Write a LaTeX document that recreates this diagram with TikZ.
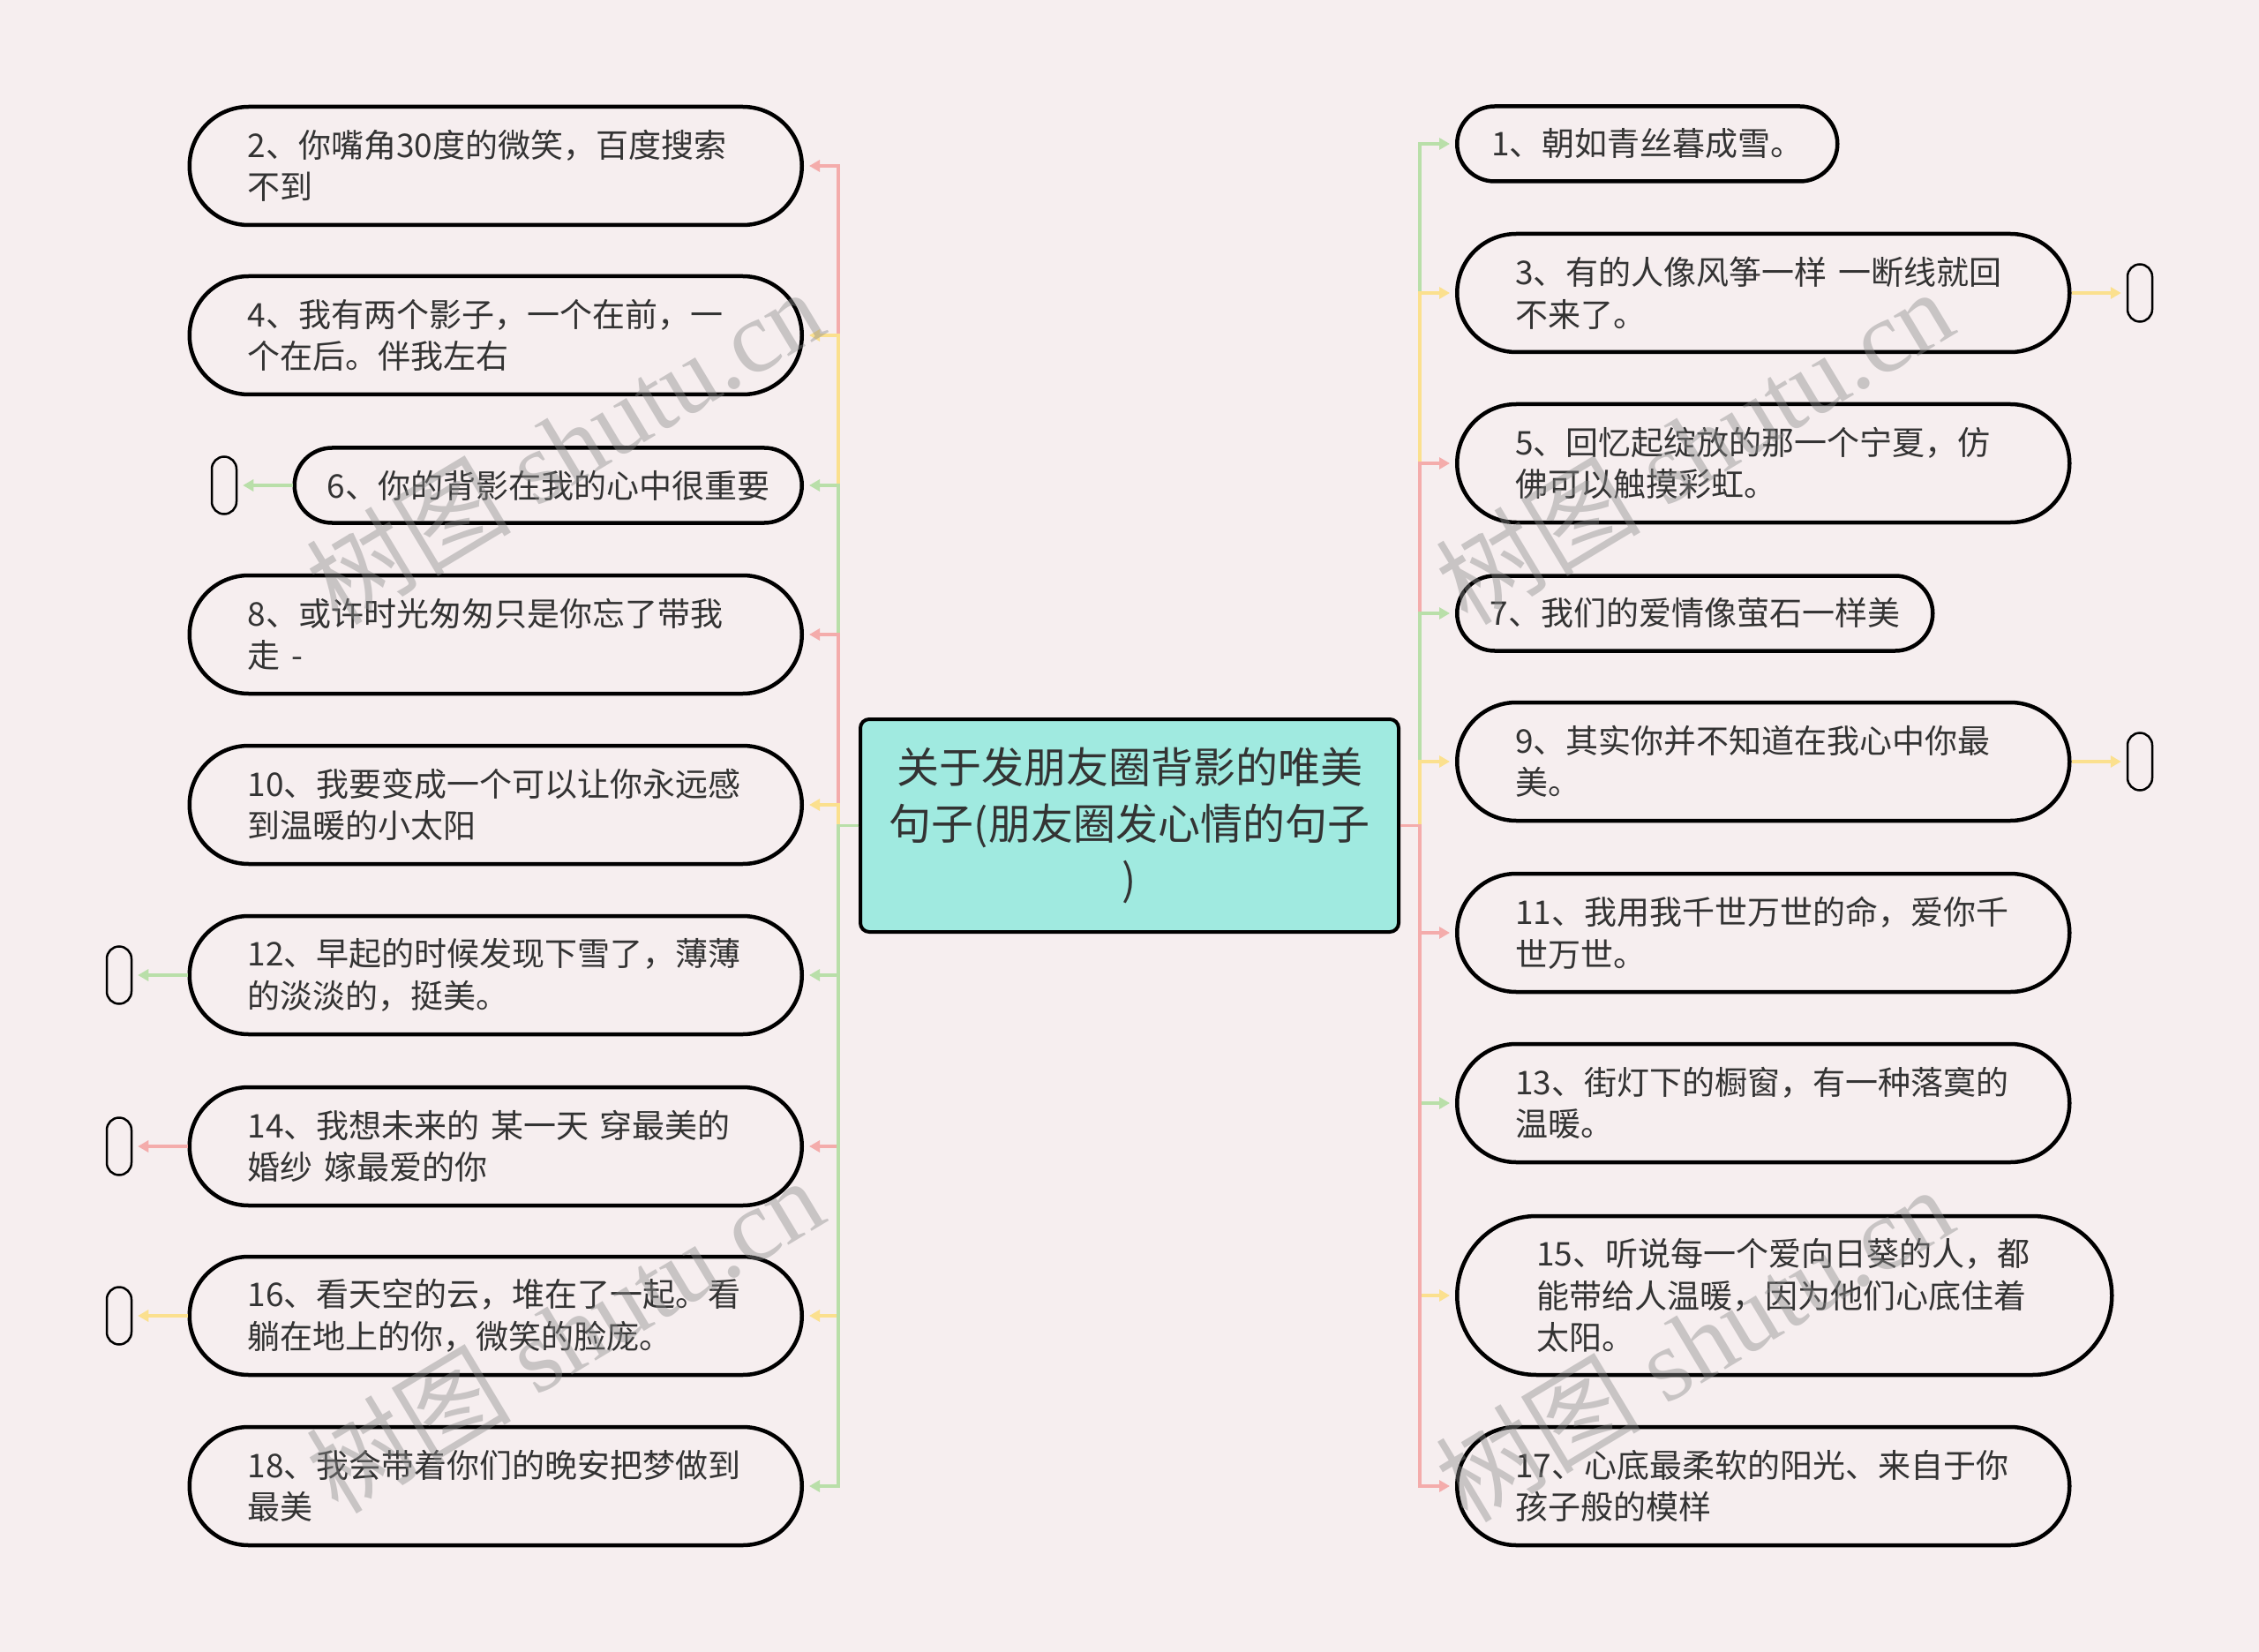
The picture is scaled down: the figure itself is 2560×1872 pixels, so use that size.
\documentclass[tikz,border=0pt]{standalone}
\usepackage{fontspec}
\newfontfamily\cjk{Noto Sans CJK SC}
\newfontfamily\wmserif{Liberation Serif}
\usetikzlibrary{arrows.meta}
\definecolor{bgc}{HTML}{F6EEEF}
\definecolor{redc}{HTML}{F4ACAB}
\definecolor{yelc}{HTML}{FBE08E}
\definecolor{grnc}{HTML}{B9DFA9}
\definecolor{cenc}{HTML}{A0EAE0}
\definecolor{txtc}{HTML}{333333}
\definecolor{wmc}{HTML}{8A8A8A}
\begin{document}
\begin{tikzpicture}[x=0.5pt,y=-0.5pt,
 leaf/.style={draw=black, line width=2.25pt, fill=bgc, text=txtc, font=\cjk\fontsize{18.5pt}{23.75pt}\selectfont, inner ysep=0pt},
 twol/.style={leaf, text width=281pt, align=left, minimum height=67pt, inner xsep=33pt, rounded corners=33.5pt},
 threel/.style={leaf, text width=281pt, align=left, minimum height=90pt, inner xsep=45pt, rounded corners=45pt},
 onel/.style={leaf, align=center, minimum height=42.5pt, inner xsep=4pt, rounded corners=21.25pt},
 tipnode/.style={draw=black, line width=1.25pt, fill=bgc, minimum width=14pt, minimum height=32.5pt, inner sep=0pt, rounded corners=7pt},
 conn/.style={line width=1.75pt, -{Triangle[length=6pt,width=6.5pt]}, shorten >=3pt},
 wm/.style={text=wmc, text opacity=0.42, font=\wmserif\fontsize{58pt}{60pt}\selectfont, inner sep=0pt}
]
\fill[bgc] (0,0) rectangle (2560,1872);
\useasboundingbox (0,0) rectangle (2560,1872);

% centre
\node[draw=black, line width=2pt, fill=cenc, rounded corners=5pt, minimum width=305pt, minimum height=120.5pt, align=center, text=txtc, font=\cjk\fontsize{24pt}{31.75pt}\selectfont] (c) at (1280,935.5) {关于发朋友圈背影的唯美\\句子(朋友圈发心情的句子\\)};

% left
\node[twol, anchor=east] (n2) at (911,188) {2、你嘴角30度的微笑，百度搜索\\不到};
\node[twol, anchor=east] (n4) at (911,380) {4、我有两个影子，一个在前，一\\个在后。伴我左右};
\node[onel, anchor=east, minimum width=287.5pt] (n6) at (911,550) {6、你的背影在我的心中很重要};
\node[twol, anchor=east] (n8) at (911,719) {8、或许时光匆匆只是你忘了带我\\走 -};
\node[twol, anchor=east] (n10) at (911,912) {10、我要变成一个可以让你永远感\\到温暖的小太阳};
\node[twol, anchor=east] (n12) at (911,1105) {12、早起的时候发现下雪了，薄薄\\的淡淡的，挺美。};
\node[twol, anchor=east] (n14) at (911,1299) {14、我想未来的 某一天 穿最美的\\婚纱 嫁最爱的你};
\node[twol, anchor=east] (n16) at (911,1491) {16、看天空的云，堆在了一起。看\\躺在地上的你，微笑的脸庞。};
\node[twol, anchor=east] (n18) at (911,1684) {18、我会带着你们的晚安把梦做到\\最美};

% right
\node[onel, anchor=west, minimum width=215.5pt] (n1) at (1649,163) {1、朝如青丝暮成雪。};
\node[twol, anchor=west] (n3) at (1649,332) {3、有的人像风筝一样 一断线就回\\不来了。};
\node[twol, anchor=west] (n5) at (1649,525) {5、回忆起绽放的那一个宁夏，仿\\佛可以触摸彩虹。};
\node[onel, anchor=west, minimum width=269.5pt] (n7) at (1649,695) {7、我们的爱情像萤石一样美};
\node[twol, anchor=west] (n9) at (1649,863) {9、其实你并不知道在我心中你最\\美。};
\node[twol, anchor=west] (n11) at (1649,1057) {11、我用我千世万世的命，爱你千\\世万世。};
\node[twol, anchor=west] (n13) at (1649,1250) {13、街灯下的橱窗，有一种落寞的\\温暖。};
\node[threel, anchor=west] (n15) at (1649,1468) {15、听说每一个爱向日葵的人，都\\能带给人温暖，因为他们心底住着\\太阳。};
\node[twol, anchor=west] (n17) at (1649,1684) {17、心底最柔软的阳光、来自于你\\孩子般的模样};

% small end nodes
\node[tipnode] (s6) at (254,550) {};
\node[tipnode] (s12) at (135,1105) {};
\node[tipnode] (s14) at (135,1299) {};
\node[tipnode] (s16) at (135,1491) {};
\node[tipnode] (s3) at (2425,332) {};
\node[tipnode] (s9) at (2425,863) {};

% trunks
\coordinate (lt) at (950,935.5);
\coordinate (rt) at (1609,935.5);

% left connectors
\draw[conn, redc] (c.west) -- (lt) |- (n2);
\draw[conn, yelc] (c.west) -- (lt) |- (n4);
\draw[conn, grnc] (c.west) -- (lt) |- (n6);
\draw[conn, redc] (c.west) -- (lt) |- (n8);
\draw[conn, yelc] (c.west) -- (lt) |- (n10);
\draw[conn, grnc] (c.west) -- (lt) |- (n12);
\draw[conn, redc] (c.west) -- (lt) |- (n14);
\draw[conn, yelc] (c.west) -- (lt) |- (n16);
\draw[conn, grnc] (c.west) -- (lt) |- (n18);

% right connectors
\draw[conn, grnc] (c.east) -- (rt) |- (n1);
\draw[conn, yelc] (c.east) -- (rt) |- (n3);
\draw[conn, redc] (c.east) -- (rt) |- (n5);
\draw[conn, grnc] (c.east) -- (rt) |- (n7);
\draw[conn, yelc] (c.east) -- (rt) |- (n9);
\draw[conn, redc] (c.east) -- (rt) |- (n11);
\draw[conn, grnc] (c.east) -- (rt) |- (n13);
\draw[conn, yelc] (c.east) -- (rt) |- (n15);
\draw[conn, redc] (c.east) -- (rt) |- (n17);

% to small nodes
\draw[conn, grnc] (n6) -- (s6);
\draw[conn, grnc] (n12) -- (s12);
\draw[conn, redc] (n14) -- (s14);
\draw[conn, yelc] (n16) -- (s16);
\draw[conn, yelc] (n3) -- (s3);
\draw[conn, yelc] (n9) -- (s9);

% watermarks
\node[wm, rotate=31] (w1) at (640,505) {{\cjk 树图} shutu.cn};
\node[wm, rotate=31] (w2) at (1920,505) {{\cjk 树图} shutu.cn};
\node[wm, rotate=31] (w3) at (640,1512) {{\cjk 树图} shutu.cn};
\node[wm, rotate=31] (w4) at (1920,1522) {{\cjk 树图} shutu.cn};
\end{tikzpicture}
\end{document}
